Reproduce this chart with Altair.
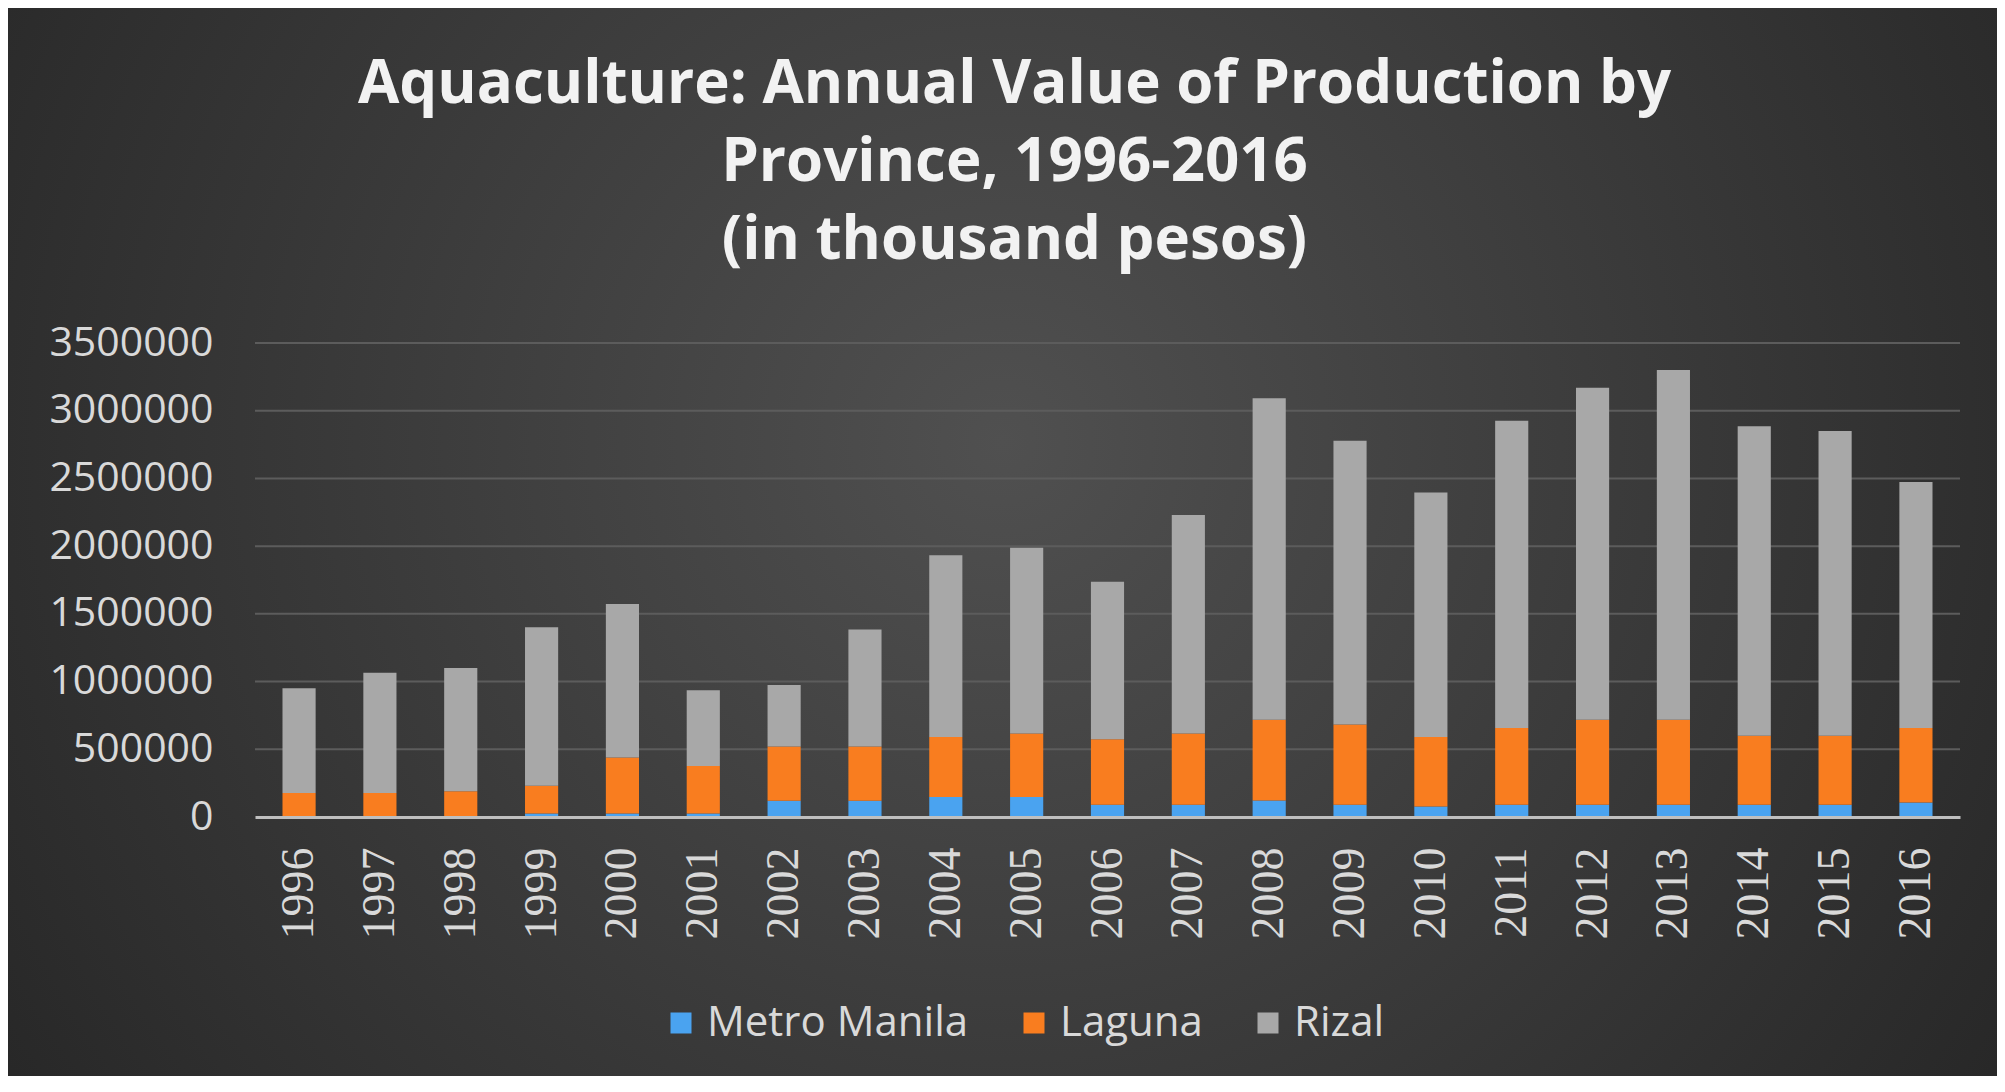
import altair as alt
import pandas as pd

years = [str(y) for y in range(1996, 2017)]
metro_manila = [3000, 3000, 5000, 25000, 25000, 25000, 120000, 120000, 148000, 148000,
                90000, 90000, 122000, 90000, 77000, 90000, 90000, 90000, 90000, 90000, 107000]
laguna = [175000, 175000, 185000, 205000, 415000, 352000, 400000, 400000, 442000, 469000,
          484000, 527000, 597000, 593000, 514000, 568000, 629000, 629000, 510000, 510000, 551000]
rizal = [773000, 888000, 911000, 1172000, 1133000, 559000, 454000, 864000, 1342000, 1371000,
         1164000, 1613000, 2373000, 2095000, 1805000, 2268000, 2450000, 2582000, 2286000, 2250000, 1815000]
provinces = ["Metro Manila", "Laguna", "Rizal"]
colors = ["#4aa3f0", "#f97d1f", "#a8a8a8"]
y_ticks = [0, 500000, 1000000, 1500000, 2000000, 2500000, 3000000, 3500000]
title_lines = ["Aquaculture: Annual Value of Production by", "Province, 1996-2016", "(in thousand pesos)"]

rows = []
for i, yr in enumerate(years):
    for k, (name, vals) in enumerate(zip(provinces, [metro_manila, laguna, rizal])):
        rows.append({"year": yr, "province": name, "value": vals[i], "ord": k})
df = pd.DataFrame(rows)

W, H = 1705, 474
PAD = {"left": 247, "top": 335, "right": 37, "bottom": 259}
yscale = alt.Scale(domain=[0, 3500000], nice=False)


def yaxis():
    return alt.Axis(values=y_ticks, format="d", labelFont="Open Sans", labelFontSize=41,
                    labelColor="#d9d9d9", labelPadding=42, ticks=False, tickSize=0,
                    domain=False, grid=False, zindex=1)


bg = alt.Chart(pd.DataFrame({"a": [0]})).mark_rect(
    fill={"gradient": "radial",
          "stops": [{"offset": 0, "color": "#505050"}, {"offset": 1, "color": "#262626"}],
          "x1": 0.5, "y1": 0.45, "r1": 0, "x2": 0.5, "y2": 0.45, "r2": 0.62}
).encode(
    x=alt.value(-PAD["left"]), x2=alt.value(W + PAD["right"]),
    y=alt.value(-PAD["top"]), y2=alt.value(H + PAD["bottom"]),
)

grid = alt.Chart(pd.DataFrame({"v": y_ticks[1:]})).mark_rule(
    color="#5c5c5c", strokeWidth=2
).encode(
    y=alt.Y("v:Q", scale=yscale, axis=yaxis(), title=None),
    x=alt.value(0), x2=alt.value(W),
)

bars = alt.Chart(df).mark_bar().encode(
    x=alt.X("year:N", sort=years, title=None,
            scale=alt.Scale(paddingInner=0.59, paddingOuter=0.34),
            axis=alt.Axis(labelAngle=-90, labelFont="'Liberation Serif', 'DejaVu Serif', serif",
                          labelFontSize=46,
                          labelColor="#d9d9d9", labelPadding=30, ticks=False, tickSize=0,
                          domainColor="#bfbfbf", domainWidth=3, grid=False, zindex=1)),
    y=alt.Y("value:Q", stack="zero", scale=yscale, title=None, axis=yaxis()),
    color=alt.Color("province:N", sort=provinces,
                    scale=alt.Scale(domain=provinces, range=colors),
                    legend=alt.Legend(title=None, orient="none", legendX=405, legendY=659,
                                      direction="horizontal", symbolType="square",
                                      symbolSize=441, symbolStrokeWidth=0,
                                      labelFont="Open Sans", labelFontSize=42,
                                      labelColor="#d9d9d9", labelLimit=400,
                                      columnPadding=44, labelOffset=5)),
    order=alt.Order("ord:Q", sort="ascending"),
)

chart = alt.layer(bg, grid, bars).properties(
    width=W, height=H,
    padding=PAD,
    autosize=alt.AutoSizeParams(type="none"),
    background="#2b2b2b",
    title=alt.TitleParams(text=title_lines, font="Open Sans", fontSize=60, fontWeight="bold",
                          color="#f2f2f2", anchor="middle", dx=-93, dy=314,
                          lineHeight=78, offset=50),
).configure_view(stroke=None)

chart.save("out.html", embed_options={"renderer": "svg", "actions": False})
